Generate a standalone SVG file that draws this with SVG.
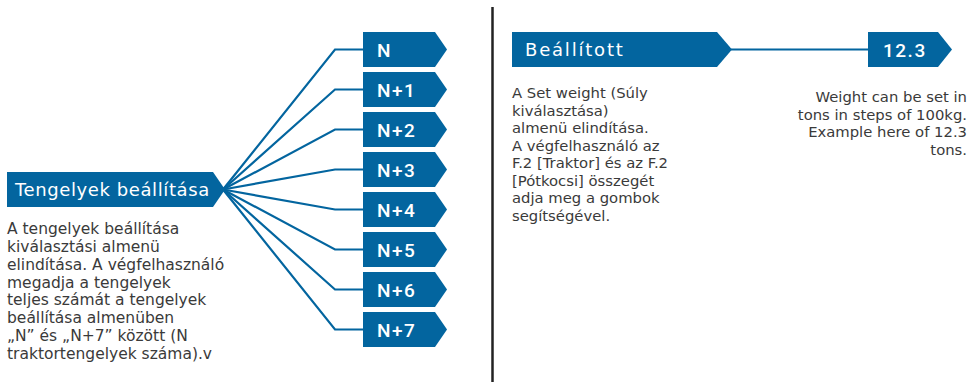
<svg xmlns="http://www.w3.org/2000/svg" width="970" height="382" viewBox="0 0 970 382">
<defs>
<style>
.box{fill:#03659f}
.lbl{fill:#fff;font-family:Roboto,"Liberation Sans",sans-serif;font-weight:500;font-size:19px;letter-spacing:1.5px}
.hd{fill:#fff;font-family:"DejaVu Sans","Liberation Sans",sans-serif;font-size:18px}
.body{fill:#3a3a3a;font-family:"DejaVu Sans","Liberation Sans",sans-serif;font-size:15.5px}
.body2{fill:#3a3a3a;font-family:"DejaVu Sans","Liberation Sans",sans-serif;font-size:14.8px}
.con{fill:none;stroke:#03659f;stroke-width:2.2}
</style>
</defs>
<rect width="970" height="382" fill="#fff"/>
<line x1="492.5" y1="7" x2="492.5" y2="382" stroke="#222" stroke-width="2.5"/>
<g id="connectors">
<path class="con" d="M223 189.5 L335 49.5 H364"/>
<path class="con" d="M223 189.5 L335 89.5 H364"/>
<path class="con" d="M223 189.5 L335 129.5 H364"/>
<path class="con" d="M223 189.5 L335 169.5 H364"/>
<path class="con" d="M223 189.5 L335 209.5 H364"/>
<path class="con" d="M223 189.5 L335 249.5 H364"/>
<path class="con" d="M223 189.5 L335 289.5 H364"/>
<path class="con" d="M223 189.5 L335 329.5 H364"/>
<path class="con" d="M731 49.5 H869"/>
</g>
<g id="tengelyek">
<polygon class="box" points="7,172 213,172 225,189.5 213,207 7,207"/>
<text class="hd" x="15" y="196" letter-spacing="0.6">Tengelyek beállítása</text>
</g>
<g id="tengelyek-desc">
<text class="body" x="7" y="234">A tengelyek beállítása</text>
<text class="body" x="7" y="252">kiválasztási almenü</text>
<text class="body" x="7" y="270">elindítása. A végfelhasználó</text>
<text class="body" x="7" y="288">megadja a tengelyek</text>
<text class="body" x="7" y="305">teljes számát a tengelyek</text>
<text class="body" x="7" y="323">beállítása almenüben</text>
<text class="body" x="7" y="341">„N” és „N+7” között (N</text>
<text class="body" x="7" y="359">traktortengelyek száma).v</text>
</g>
<g id="n0"><polygon class="box" points="363,32 435,32 447,49.5 435,67 363,67"/><text class="lbl" x="377" y="57">N</text></g>
<g id="n1"><polygon class="box" points="363,72 435,72 447,89.5 435,107 363,107"/><text class="lbl" x="377" y="97">N+1</text></g>
<g id="n2"><polygon class="box" points="363,112 435,112 447,129.5 435,147 363,147"/><text class="lbl" x="377" y="137">N+2</text></g>
<g id="n3"><polygon class="box" points="363,152 435,152 447,169.5 435,187 363,187"/><text class="lbl" x="377" y="177">N+3</text></g>
<g id="n4"><polygon class="box" points="363,192 435,192 447,209.5 435,227 363,227"/><text class="lbl" x="377" y="217">N+4</text></g>
<g id="n5"><polygon class="box" points="363,232 435,232 447,249.5 435,267 363,267"/><text class="lbl" x="377" y="257">N+5</text></g>
<g id="n6"><polygon class="box" points="363,272 435,272 447,289.5 435,307 363,307"/><text class="lbl" x="377" y="297">N+6</text></g>
<g id="n7"><polygon class="box" points="363,312 435,312 447,329.5 435,347 363,347"/><text class="lbl" x="377" y="337">N+7</text></g>
<g id="beallitott">
<polygon class="box" points="512,32 717,32 732,49.5 717,67 512,67"/>
<text class="hd" x="525" y="56" letter-spacing="1.8">Beállított</text>
</g>
<g id="beallitott-desc">
<text class="body2" x="512" y="98">A Set weight (Súly</text>
<text class="body2" x="512" y="115.5">kiválasztása)</text>
<text class="body2" x="512" y="133">almenü elindítása.</text>
<text class="body2" x="512" y="150.5">A végfelhasználó az</text>
<text class="body2" x="512" y="168">F.2 [Traktor] és az F.2</text>
<text class="body2" x="512" y="185.5">[Pótkocsi] összegét</text>
<text class="body2" x="512" y="203">adja meg a gombok</text>
<text class="body2" x="512" y="220.5">segítségével.</text>
</g>
<g id="value">
<polygon class="box" points="868,32 938,32 952,49.5 938,67 868,67"/>
<text class="lbl" x="883" y="57" letter-spacing="0.5">12.3</text>
</g>
<g id="value-desc">
<text class="body2" x="967" y="102" text-anchor="end">Weight can be set in</text>
<text class="body2" x="967" y="119.5" text-anchor="end">tons in steps of 100kg.</text>
<text class="body2" x="967" y="137" text-anchor="end">Example here of 12.3</text>
<text class="body2" x="967" y="154.5" text-anchor="end">tons.</text>
</g>
</svg>
